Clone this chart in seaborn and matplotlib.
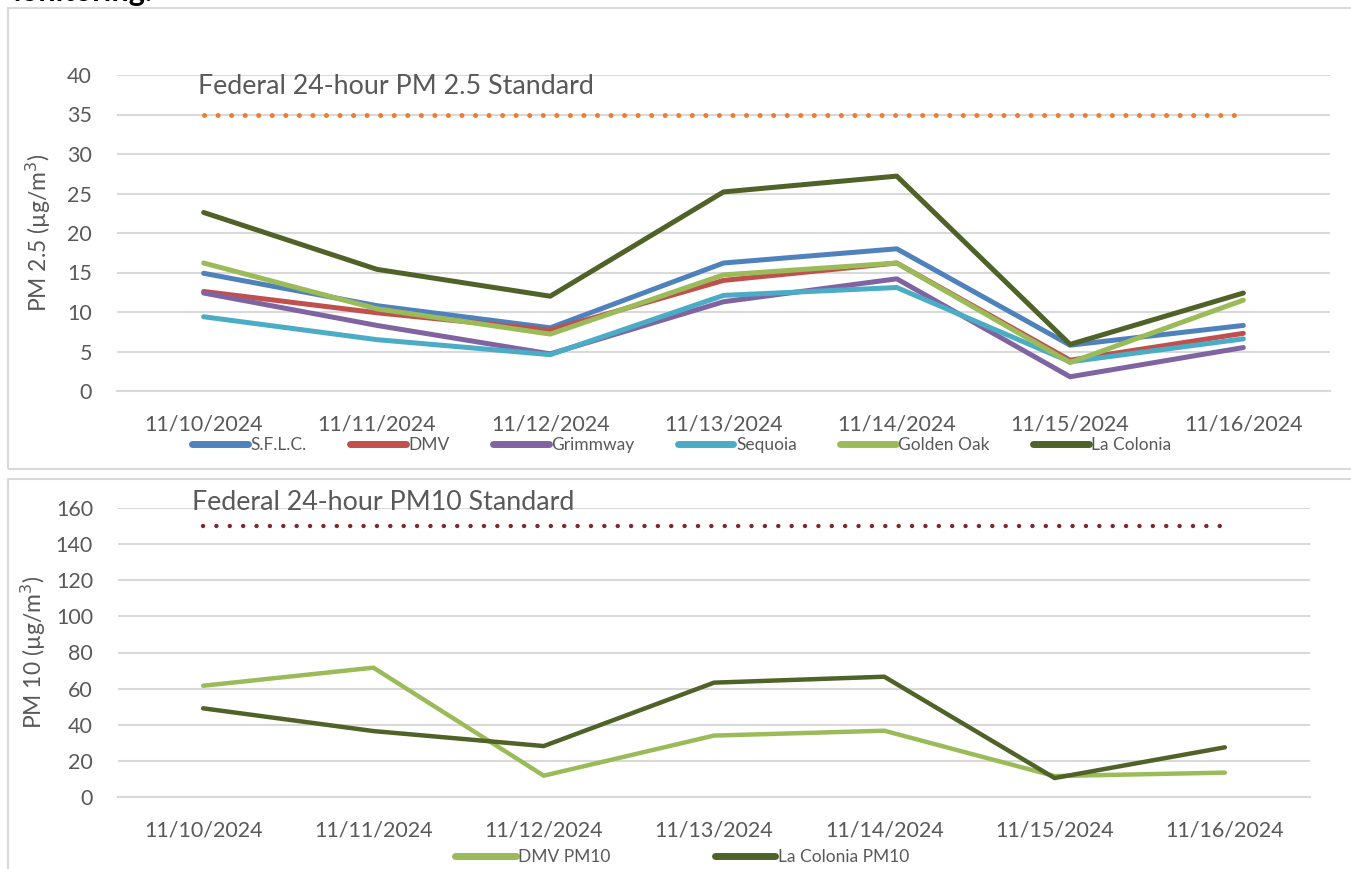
import pandas as pd
import numpy as np
import seaborn as sns
import matplotlib.pyplot as plt
from matplotlib.patches import Rectangle

# data
dates = ['11/10/2024', '11/11/2024', '11/12/2024', '11/13/2024',
         '11/14/2024', '11/15/2024', '11/16/2024']

sflc = [14.9, 10.8, 8.0, 16.2, 18.0, 5.8, 8.3]
dmv = [12.6, 9.9, 7.7, 14.0, 16.2, 3.9, 7.3]
grimmway = [12.4, 8.3, 4.7, 11.3, 14.2, 1.8, 5.5]
sequoia = [9.4, 6.5, 4.6, 12.1, 13.1, 3.7, 6.6]
golden_oak = [16.2, 10.4, 7.2, 14.7, 16.2, 3.6, 11.5]
la_colonia = [22.6, 15.4, 12.0, 25.2, 27.2, 5.9, 12.4]
pm25_standard = 35

dmv_pm10 = [61.6, 71.6, 11.8, 34.0, 36.7, 11.6, 13.5]
la_colonia_pm10 = [49.1, 36.5, 28.2, 63.3, 66.6, 10.5, 27.5]
pm10_standard = 150

pm25_sites = ['S.F.L.C.', 'DMV', 'Grimmway', 'Sequoia', 'Golden Oak', 'La Colonia']
pm25_vals = [sflc, dmv, grimmway, sequoia, golden_oak, la_colonia]
pm25_colors = ['#4F81BD', '#C0504D', '#8064A2', '#4BACC6', '#9BBB59', '#4F6228']

pm10_sites = ['DMV PM10', 'La Colonia PM10']
pm10_vals = [dmv_pm10, la_colonia_pm10]
pm10_colors = ['#9BBB59', '#4F6228']

df25 = pd.DataFrame([(d, s, v) for s, vals in zip(pm25_sites, pm25_vals)
                     for d, v in zip(dates, vals)], columns=['Date', 'Site', 'PM'])
df10 = pd.DataFrame([(d, s, v) for s, vals in zip(pm10_sites, pm10_vals)
                     for d, v in zip(dates, vals)], columns=['Date', 'Site', 'PM'])

sns.set_theme(style='white')
plt.rcParams['font.family'] = ['Lato', 'DejaVu Sans']

W, H = 1351, 869
fig = plt.figure(figsize=(W / 100, H / 100), dpi=100)

# panel borders
for (x0, y0, x1, y1) in [(8, 8, 1360, 469), (8, 479, 1360, 880)]:
    fig.patches.append(Rectangle((x0 / W, 1 - y1 / H), (x1 - x0) / W, (y1 - y0) / H,
                                 transform=fig.transFigure, fill=False,
                                 edgecolor='#D9D9D9', linewidth=1.5))

# clipped heading from the page above
fig.text(153 / W, 1 - 1 / H, 'Monitoring.', ha='right', va='baseline',
         fontsize=22, fontweight='bold', color='black')

grey = '#595959'
grid = '#D9D9D9'


def style_axis(ax, ymax, step, ylabel, label_x):
    ax.set_xlim(-0.5, 6.5)
    ax.set_ylim(0, ymax)
    ax.set_yticks(np.arange(0, ymax + 1, step))
    ax.yaxis.grid(True, color=grid, linewidth=1.5)
    ax.set_axisbelow(True)
    for s in ['top', 'right', 'left']:
        ax.spines[s].set_visible(False)
    ax.spines['bottom'].set_color(grid)
    ax.spines['bottom'].set_linewidth(1.5)
    ax.set_xticks(np.arange(-0.5, 7, 1), minor=True)
    ax.tick_params(axis='x', which='minor', length=6, width=1.5, color=grid, direction='out')
    ax.tick_params(axis='x', which='major', length=0, pad=17, labelsize=15.5, labelcolor=grey)
    ax.tick_params(axis='y', length=0, pad=18, labelsize=15.5, labelcolor=grey)
    ax.set_xlabel('')
    ax.set_ylabel(ylabel, fontsize=16.5, color=grey)
    ax.yaxis.set_label_coords(label_x, 0.5)


def style_legend(leg):
    for lh in leg.get_lines():
        lh.set_linewidth(5)
        lh.set_solid_capstyle('round')


# PM 2.5 panel
ax1 = fig.add_axes([117 / W, 1 - 391 / H, (1330 - 117) / W, (391 - 75) / H])
sns.lineplot(data=df25, x='Date', y='PM', hue='Site', palette=pm25_colors,
             linewidth=3.6, sort=False, ax=ax1, legend=True)
for ln in ax1.lines:
    ln.set_solid_capstyle('round')
    ln.set_solid_joinstyle('round')
ax1.plot(dates, [pm25_standard] * len(dates), color='#ED7D31', linewidth=3.6,
         linestyle=(0, (0.01, 2.7)), dash_capstyle='round')
ax1.text(-0.033, 38.5, 'Federal 24-hour PM 2.5 Standard', fontsize=19.3, color=grey,
         va='center', ha='left')
style_axis(ax1, 40, 5, 'PM 2.5 (µg/m$^3$)', -0.053)
h, l = ax1.get_legend_handles_labels()
leg1 = ax1.legend(h[:6], l[:6], loc='center', bbox_to_anchor=(682 / W, 1 - 445 / H),
                  bbox_transform=fig.transFigure, ncol=6, frameon=False, fontsize=12.5,
                  handlelength=3.2, handletextpad=0.15, columnspacing=2.5, labelcolor=grey)
style_legend(leg1)

# PM10 panel
ax2 = fig.add_axes([118 / W, 1 - 797 / H, (1310 - 118) / W, (797 - 508) / H])
sns.lineplot(data=df10, x='Date', y='PM', hue='Site', palette=pm10_colors,
             linewidth=3.2, sort=False, ax=ax2, legend=True)
for ln in ax2.lines:
    ln.set_solid_capstyle('round')
    ln.set_solid_joinstyle('round')
ax2.plot(dates, [pm10_standard] * len(dates), color='#7F2A2A', linewidth=3.2,
         linestyle=(0, (0.01, 3.0)), dash_capstyle='round')
ax2.text(-0.065, 163, 'Federal 24-hour PM10 Standard', fontsize=19.3, color=grey,
         va='center', ha='left', clip_on=False)
style_axis(ax2, 160, 20, 'PM 10 (µg/m$^3$)', -0.059)
h, l = ax2.get_legend_handles_labels()
leg2 = ax2.legend(h[:2], l[:2], loc='center', bbox_to_anchor=(682 / W, 1 - 857 / H),
                  bbox_transform=fig.transFigure, ncol=2, frameon=False, fontsize=12.5,
                  handlelength=3.5, handletextpad=0.15, columnspacing=6.0, labelcolor=grey)
style_legend(leg2)

fig.savefig('out.png', dpi=100)
